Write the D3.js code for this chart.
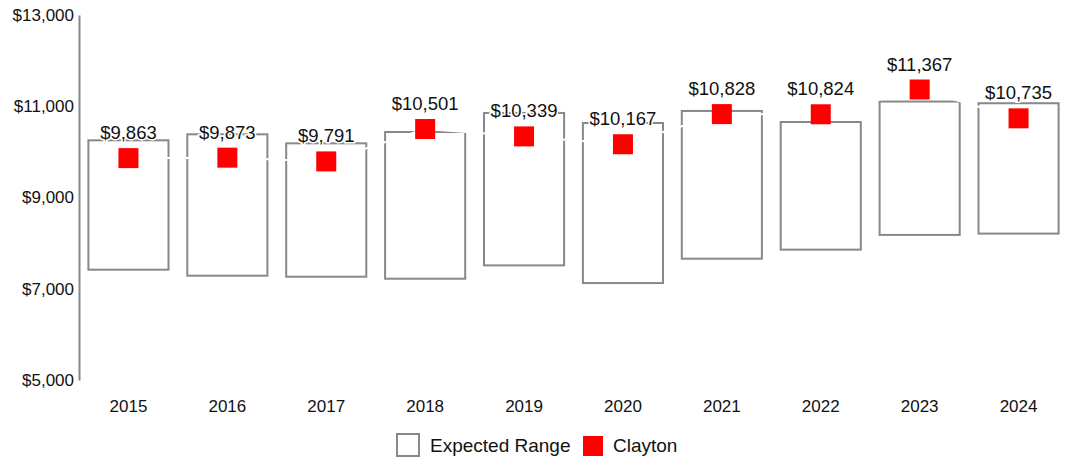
<!DOCTYPE html>
<html lang="en">
<head>
<meta charset="UTF-8">
<title>Expected Range vs Clayton</title>
<script src="https://d3js.org/d3.v7.min.js"></script>
<style>
  body { margin: 0; background: #fff; }
  svg { font-family: "Liberation Sans", Arial, sans-serif; display: block; }
</style>
</head>
<body>
<div id="content"></div>
<script>
const years = ["2015", "2016", "2017", "2018", "2019", "2020", "2021", "2022", "2023", "2024"];
const rangeLow = [7418, 7286, 7264, 7220, 7512, 7125, 7659, 7857, 8180, 8209];
const rangeHigh = [10253, 10385, 10187, 10435, 10853, 10633, 10897, 10655, 11103, 11066];
const clayton = [9863, 9873, 9791, 10501, 10339, 10167, 10828, 10824, 11367, 10735];
const yTicks = [5000, 7000, 9000, 11000, 13000];

const width = 1068, height = 460;

const svg = d3.select("#content").append("svg")
    .attr("width", width)
    .attr("height", height);

const x = d3.scaleBand()
    .domain(years)
    .range([79, 1068])
    .paddingInner(0.19)
    .paddingOuter(0.095);

const y = d3.scaleLinear()
    .domain([5000, 13000])
    .range([380, 15]);

const fmt = d3.format("$,");

// y axis
const yAxis = svg.append("g")
    .attr("transform", "translate(79,0)")
    .call(d3.axisLeft(y).tickValues(yTicks).tickFormat(fmt).tickSize(0).tickPadding(5));
yAxis.select(".domain").attr("stroke", "#888").attr("stroke-width", 2);
yAxis.selectAll("text").attr("font-size", 17).attr("fill", "#111").attr("font-family", null);

// x axis
const xAxis = svg.append("g")
    .attr("transform", "translate(0,379)")
    .call(d3.axisBottom(x).tickSize(0).tickPadding(21));
xAxis.select(".domain").remove();
xAxis.selectAll("text").attr("font-size", 17).attr("fill", "#111").attr("font-family", null);

// expected range boxes
svg.append("g").selectAll("rect")
    .data(years)
    .join("rect")
    .attr("x", d => x(d))
    .attr("width", x.bandwidth())
    .attr("y", (d, i) => y(rangeHigh[i]))
    .attr("height", (d, i) => y(rangeLow[i]) - y(rangeHigh[i]))
    .attr("fill", "none")
    .attr("stroke", "#888")
    .attr("stroke-width", 2);

// faint white connector through the points
const line = d3.line()
    .x((d, i) => x(years[i]) + x.bandwidth() / 2)
    .y(d => y(d));
svg.append("path")
    .datum(clayton)
    .attr("d", line)
    .attr("fill", "none")
    .attr("stroke", "#fff")
    .attr("stroke-width", 2);

// clayton squares
svg.append("g").selectAll("rect")
    .data(clayton)
    .join("rect")
    .attr("x", (d, i) => x(years[i]) + x.bandwidth() / 2 - 10)
    .attr("y", d => y(d) - 10)
    .attr("width", 20)
    .attr("height", 20)
    .attr("fill", "#ff0000");

// value labels
svg.append("g").selectAll("text")
    .data(clayton)
    .join("text")
    .attr("x", (d, i) => x(years[i]) + x.bandwidth() / 2)
    .attr("y", d => y(d) - 19)
    .attr("text-anchor", "middle")
    .attr("font-size", 18.5)
    .attr("fill", "#111")
    .attr("stroke", "#fff")
    .attr("stroke-width", 3)
    .attr("paint-order", "stroke")
    .text(d => fmt(d));

// legend
const legend = svg.append("g");
legend.append("rect")
    .attr("x", 397).attr("y", 434)
    .attr("width", 22).attr("height", 22)
    .attr("fill", "#fff")
    .attr("stroke", "#888")
    .attr("stroke-width", 2);
legend.append("text")
    .attr("x", 430).attr("y", 445)
    .attr("dy", "0.35em")
    .attr("font-size", 19)
    .attr("fill", "#111")
    .text("Expected Range");
legend.append("rect")
    .attr("x", 583).attr("y", 436)
    .attr("width", 20).attr("height", 20)
    .attr("fill", "#ff0000");
legend.append("text")
    .attr("x", 613).attr("y", 445)
    .attr("dy", "0.35em")
    .attr("font-size", 19)
    .attr("fill", "#111")
    .text("Clayton");
</script>
</body>
</html>
